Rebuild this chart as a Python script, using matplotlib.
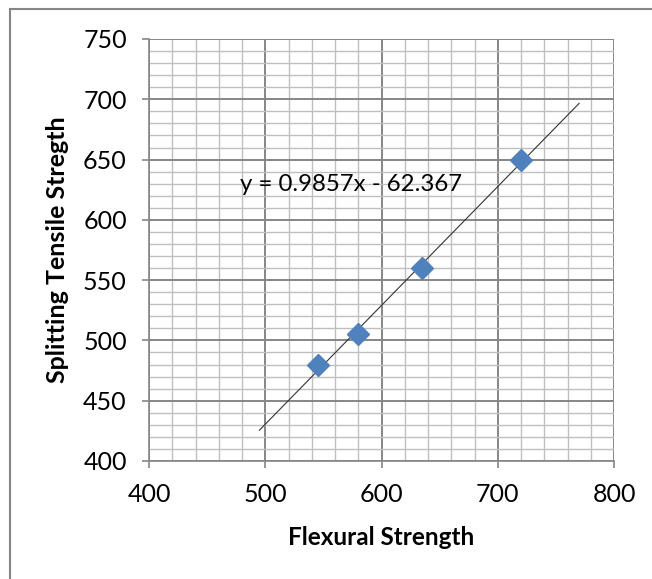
import matplotlib
matplotlib.use("Agg")
import matplotlib.pyplot as plt
import numpy as np
from matplotlib.ticker import MultipleLocator
from matplotlib.lines import Line2D

# data
flexural = [545, 580, 635, 720]
splitting = [480, 505, 560, 650]
trend_slope = 0.9857
trend_icept = -62.367
trend_x = [495, 770]
eq_text = "y = 0.9857x - 62.367"

plt.rcParams['font.family'] = ['Lato', 'DejaVu Sans']

fig = plt.figure(figsize=(6.52, 5.79), dpi=100)
ax = fig.add_axes([149/652, 1 - 461/579, (614 - 149)/652, (461 - 39)/579])

ax.set_xlim(400, 800)
ax.set_ylim(400, 750)
ax.xaxis.set_major_locator(MultipleLocator(100))
ax.xaxis.set_minor_locator(MultipleLocator(20))
ax.yaxis.set_major_locator(MultipleLocator(50))
ax.yaxis.set_minor_locator(MultipleLocator(10))

# gridlines, excel style
ax.grid(which="minor", color="#bfbfbf", lw=1.0)
ax.grid(which="major", color="#868686", lw=1.4)
ax.set_axisbelow(True)

for s in ["top", "right"]:
    ax.spines[s].set_visible(False)
for s in ["left", "bottom"]:
    ax.spines[s].set_color("#868686")
    ax.spines[s].set_linewidth(1.2)

ax.tick_params(which="major", length=5, width=1.2, color="#868686", labelsize=18, direction="out")
ax.tick_params(axis="y", pad=11)
ax.tick_params(axis="x", pad=11)
ax.tick_params(which="minor", length=0)

# trendline
tx = np.array(trend_x)
ax.plot(tx, trend_slope * tx + trend_icept, color="#333333", lw=0.8, zorder=3)

# points
ax.plot(flexural, splitting, linestyle="none", marker="D", ms=11, color="#4f81bd",
        markeredgecolor="#4f81bd", zorder=4)

ax.text(574, 629, eq_text, fontsize=17.3, ha="center", va="center", color="black", zorder=5)

ax.set_xlabel("Flexural Strength", fontsize=17.5, fontweight="bold", labelpad=14)
ax.set_ylabel("Splitting Tensile Stregth", fontsize=18, fontweight="bold", labelpad=10)

# outer chart border (left and top edges visible)
fig.add_artist(Line2D([10/652, 10/652], [0, 1 - 9/579], color="#868686", lw=1.5))
fig.add_artist(Line2D([10/652, 1], [1 - 9/579, 1 - 9/579], color="#868686", lw=1.5))

fig.savefig("out.png", dpi=100)
